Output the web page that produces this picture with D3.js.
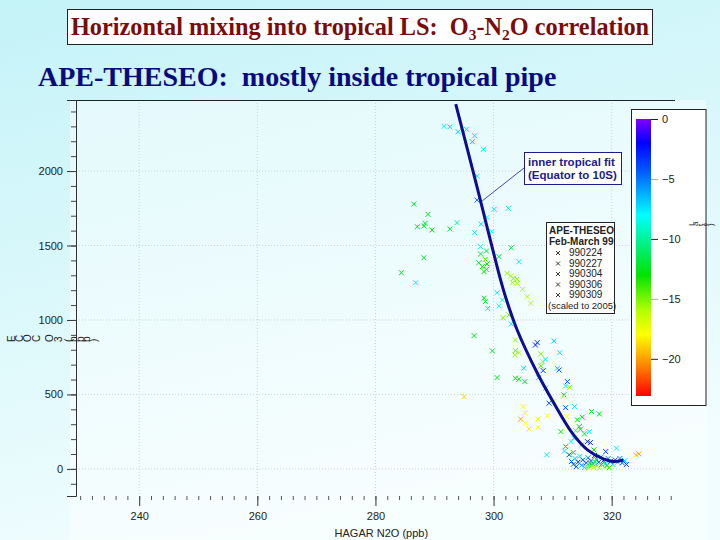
<!DOCTYPE html>
<html>
<head>
<meta charset="utf-8">
<script src="https://cdn.jsdelivr.net/npm/d3@7"></script>
<style>
  html, body { margin: 0; padding: 0; }
  svg { display: block; }
  .pre { white-space: pre; }
</style>
</head>
<body>
<div id="chart"></div>
<script>
// Axis ticks.
const n2oTicks = [240, 260, 280, 300, 320];
const o3Ticks = [0, 500, 1000, 1500, 2000];
const colorTicks = [0, -5, -10, -15, -20];

// Inner tropical fit (N2O ppb, O3 ppb).
const fitN2O = [293.6, 296.9, 301.2, 302.2, 304.0, 307.4, 310.2, 313.3, 315.9, 318.6, 320.3, 322.0];
const fitO3 = [2450, 1940, 1268, 1134, 933, 644, 443, 242, 128, 67, 49, 60];

// Legend entries.
const flights = ["990224", "990227", "990304", "990306", "990309"];

// Samples: [N2O, O3, colour value]
const samples = [
  // upper branch
  [292.6, 2297, -7.5], [294.0, 2264, -7], [295.4, 2280, -7.5], [296.8, 2237, -7.5],
  [296.4, 2197, -7], [298.3, 2146, -7.5], [297.2, 1966, -7.5], [291.6, 2300, -8],
  [297.2, 1805, -5], [300.1, 1743, -7.5], [302.5, 1750, -7.5], [298.9, 1689, -8],
  [297.9, 1644, -7.5], [299.7, 1593, -8], [296.8, 1586, -7.5],
  // green points left of the fit
  [286.5, 1778, -12], [288.9, 1709, -12.5], [288.4, 1649, -12], [288.2, 1631, -12],
  [287.1, 1626, -12], [289.6, 1604, -12.5], [292.6, 1611, -12], [293.8, 1653, -10],
  [288.2, 1418, -12], [284.4, 1317, -12.5], [286.8, 1250, -8],
  // middle cluster
  [297.8, 1492, -7.5], [297.8, 1443, -12], [298.8, 1463, -12], [297.5, 1384, -12.5],
  [298.1, 1358, -13], [298.6, 1407, -14], [298.9, 1376, -13], [298.4, 1324, -13],
  [298.8, 1340, -13.5], [300.9, 1425, -12], [303.0, 1485, -12], [304.3, 1391, -7.5],
  [302.3, 1313, -15.5], [302.9, 1295, -15.5], [303.4, 1280, -15.5], [304.0, 1273, -15],
  [303.2, 1250, -15.5], [304.9, 1206, -16], [305.7, 1156, -16], [304.0, 1246, -15.5],
  [306.3, 1112, -16], [300.6, 1183, -7.5], [298.4, 1146, -12], [298.6, 1123, -12.5],
  [299.0, 1078, -8], [300.9, 1094, -8], [301.5, 1134, -9], [302.6, 1033, -15],
  [301.6, 1015, -15], [303.0, 973, -7.5], [296.7, 895, -12.5], [299.8, 792, -12.5],
  [300.6, 613, -12.5], [295.0, 485, -19],
  // lower branch
  [303.7, 866, -15.5], [303.7, 794, -15], [303.6, 765, -15.5], [304.3, 780, -16],
  [305.1, 676, -7.5], [303.7, 609, -13], [304.3, 602, -12.5], [305.3, 586, -12.5],
  [307.1, 832, -3], [307.4, 848, -3.5], [310.2, 859, -7], [311.2, 780, -7.5],
  [308.8, 736, -7.5], [308.0, 772, -15], [308.3, 720, -15.5], [308.0, 691, -14],
  [308.4, 660, -3.5], [311.1, 664, -4], [310.8, 676, -7], [307.6, 613, -7.5],
  [308.8, 542, -7], [309.4, 441, -4], [310.2, 452, -17], [309.1, 356, -18],
  [312.5, 586, -4], [312.2, 557, -7.5], [312.9, 548, -15], [311.9, 497, -12.5],
  [311.8, 485, -17.5], [312.2, 411, -4], [313.7, 418, -7.5], [312.4, 351, -18],
  [311.4, 250, -12.5],
  [305.0, 418, -18], [305.3, 374, -18], [304.6, 334, -20], [305.4, 307, -18],
  [306.0, 268, -18.5], [307.5, 280, -18], [307.5, 334, -17.5],
  [314.2, 329, -13], [315.0, 347, -12.5], [314.5, 284, -13], [313.9, 257, -15],
  [314.7, 266, -12.5], [315.4, 235, -12], [316.2, 250, -7.5], [315.9, 183, -3.5],
  [316.4, 176, -3], [316.6, 385, -12.5], [317.9, 369, -12.5], [313.6, 206, -7.5],
  [313.1, 183, -8], [309.0, 94, -7.5], [312.2, 150, -12], [314.9, 161, -15],
  [317.0, 128, -13], [319.0, 116, -3.5], [320.8, 139, -7.5], [324.1, 94, -19],
  [324.6, 101, -20], [312.0, 120, -7.5], [312.8, 95, -4], [313.5, 110, -12],
  // dense cluster at the bottom
  [313.2, 50, -4], [313.5, 30, -5], [313.8, 70, -7], [314.0, 15, -4], [314.3, 45, -3.5],
  [314.6, 85, -8], [314.9, 25, -6], [315.1, 60, -4], [315.4, 10, -7], [315.7, 40, -3.5],
  [316.0, 75, -5], [316.2, 20, -8], [316.5, 55, -4], [316.8, 35, -7], [317.1, 90, -4],
  [317.4, 65, -6], [317.8, 45, -3.5], [318.2, 80, -7.5], [318.6, 55, -4], [319.0, 35, -7],
  [319.4, 70, -5], [319.8, 50, -3.5], [320.2, 30, -7], [320.6, 60, -4], [321.0, 45, -7.5],
  [321.4, 70, -5], [321.8, 40, -4], [322.2, 55, -7], [322.5, 30, -3.5],
  [315.6, 15, -15], [316.1, 5, -16], [316.6, 25, -14], [317.0, 10, -16.5], [317.5, 20, -15],
  [317.9, 5, -16], [318.3, 30, -13], [318.8, 12, -15.5], [319.2, 22, -12.5], [319.6, 8, -14],
  [316.3, 40, -12], [317.2, 48, -12.5]
];

const width = 720;
const height = 540;

const svg = d3.select("#chart")
  .append("svg")
  .attr("width", width)
  .attr("height", height);

const defs = svg.append("defs");

// Page background gradient.
const bg = defs.append("linearGradient")
  .attr("id", "bg")
  .attr("x1", 0).attr("y1", 0).attr("x2", 0.3).attr("y2", 1);
bg.append("stop").attr("offset", 0).attr("stop-color", "#c4f3f8");
bg.append("stop").attr("offset", 1).attr("stop-color", "#f1fdfe");

svg.append("rect")
  .attr("width", width)
  .attr("height", height)
  .attr("fill", "url(#bg)");

// Title box.
svg.append("rect")
  .attr("x", 67.5).attr("y", 9.5)
  .attr("width", 585).attr("height", 35)
  .attr("fill", "#ffffff")
  .attr("stroke", "#222")
  .attr("stroke-width", 1);

const title = svg.append("text")
  .attr("class", "pre")
  .attr("x", 360).attr("y", 35)
  .attr("text-anchor", "middle")
  .attr("font-family", "'Liberation Serif', 'Times New Roman', serif")
  .attr("font-weight", "bold")
  .attr("font-size", 24.3)
  .attr("fill", "#7a0c0c");
title.append("tspan").text("Horizontal mixing into tropical LS:  O");
title.append("tspan").attr("font-size", 15.5).attr("dy", 5).text("3");
title.append("tspan").attr("dy", -5).text("-N");
title.append("tspan").attr("font-size", 15.5).attr("dy", 5).text("2");
title.append("tspan").attr("dy", -5).text("O correlation");

svg.append("text")
  .attr("class", "pre")
  .attr("x", 38).attr("y", 86)
  .attr("font-family", "'Liberation Serif', 'Times New Roman', serif")
  .attr("font-weight", "bold")
  .attr("font-size", 28)
  .attr("fill", "#0a0a80")
  .text("APE-THESEO:  mostly inside tropical pipe");

// Chart panel.
const margin = { top: 100, left: 76, bottom: 496, right: 672.5 };

svg.append("rect")
  .attr("x", 70).attr("y", 100)
  .attr("width", 636).attr("height", 440)
  .attr("fill", "#ffffff")
  .attr("opacity", 0.45);

const x = d3.scaleLinear()
  .domain([229.3, 330.3])
  .range([margin.left, margin.right]);

const y = d3.scaleLinear()
  .domain([-182, 2477])
  .range([margin.bottom, margin.top]);

// Grid lines.
svg.append("g")
  .selectAll("line")
  .data(n2oTicks)
  .join("line")
  .attr("x1", (d) => x(d)).attr("x2", (d) => x(d))
  .attr("y1", margin.top).attr("y2", margin.bottom)
  .attr("stroke", "#c8d4d8")
  .attr("stroke-dasharray", "1,2");

svg.append("g")
  .selectAll("line")
  .data(o3Ticks)
  .join("line")
  .attr("x1", margin.left).attr("x2", margin.right)
  .attr("y1", (d) => y(d)).attr("y2", (d) => y(d))
  .attr("stroke", "#c8d4d8")
  .attr("stroke-dasharray", "1,2");

// Top frame line.
svg.append("line")
  .attr("x1", margin.left).attr("x2", 675)
  .attr("y1", margin.top + 0.5).attr("y2", margin.top + 0.5)
  .attr("stroke", "#222");

const axisFont = "'Liberation Sans', Arial, sans-serif";

// y-axis (major + minor).
const yAxis = svg.append("g")
  .attr("transform", `translate(${margin.left},0)`)
  .call(d3.axisLeft(y).tickValues(o3Ticks).tickFormat(d3.format("d")).tickSize(9).tickPadding(4));
yAxis.select(".domain").attr("stroke", "#333");
yAxis.selectAll(".tick line").attr("stroke", "#333");
yAxis.selectAll("text")
  .attr("font-family", axisFont)
  .attr("font-size", 11)
  .attr("fill", "#222");

svg.append("g")
  .attr("transform", `translate(${margin.left},0)`)
  .call(d3.axisLeft(y).tickValues(d3.range(-100, 2401, 100)).tickSize(5).tickFormat(""))
  .call((g) => g.select(".domain").remove())
  .selectAll(".tick line").attr("stroke", "#444");

// x-axis (major + minor).
const xAxis = svg.append("g")
  .attr("transform", `translate(0,${margin.bottom})`)
  .call(d3.axisBottom(x).tickValues(n2oTicks).tickSize(10).tickPadding(6));
xAxis.select(".domain").remove();
xAxis.selectAll(".tick line").attr("stroke", "#333");
xAxis.selectAll("text")
  .attr("font-family", axisFont)
  .attr("font-size", 11)
  .attr("fill", "#222");

svg.append("g")
  .attr("transform", `translate(0,${margin.bottom})`)
  .call(d3.axisBottom(x).tickValues(d3.range(230, 331, 2)).tickSize(4).tickFormat(""))
  .call((g) => g.select(".domain").remove())
  .selectAll(".tick line").attr("stroke", "#555");

svg.append("text")
  .attr("x", x(281)).attr("y", 537)
  .attr("text-anchor", "middle")
  .attr("font-family", axisFont)
  .attr("font-size", 11)
  .attr("fill", "#222")
  .text("HAGAR N2O (ppb)");

// Glyph-rotated y label.
svg.append("text")
  .attr("x", 15).attr("y", 342)
  .attr("rotate", -90)
  .attr("font-family", axisFont)
  .attr("font-size", 10)
  .attr("letter-spacing", 1.2)
  .attr("fill", "#222")
  .text("ECOC O3 (ppb)");

// Colour scale.
const colorStops = [-23.1, -20.5, -18, -16, -13, -8, -4.5, -2, 0];
const colorValues = ["#ff0000", "#ff8800", "#ffff00", "#b4ff00", "#00e400", "#00ffff", "#0060ff", "#0000ff", "#8000ff"];
const color = d3.scaleLinear().domain(colorStops).range(colorValues).clamp(true);

// Fit curve.
const fitLine = d3.line()
  .x((d) => x(d[0]))
  .y((d) => y(d[1]))
  .curve(d3.curveCatmullRom);

// Sample markers.
svg.append("g")
  .selectAll("path")
  .data(samples)
  .join("path")
  .attr("transform", (d) => `translate(${x(d[0])},${y(d[1])})`)
  .attr("d", "M-2.5,-2.5L2.5,2.5M-2.5,2.5L2.5,-2.5")
  .attr("fill", "none")
  .attr("stroke", (d) => color(d[2]))
  .attr("stroke-width", 1);

svg.append("path")
  .datum(fitN2O.map((v, i) => [v, fitO3[i]]))
  .attr("d", fitLine)
  .attr("fill", "none")
  .attr("stroke", "#0c0c96")
  .attr("stroke-width", 3);

// Fit annotation.
svg.append("line")
  .attr("x1", 524).attr("y1", 168)
  .attr("x2", x(298.1)).attr("y2", y(1800))
  .attr("stroke", "#1c1c8c")
  .attr("stroke-width", 0.8);

svg.append("rect")
  .attr("x", 524.5).attr("y", 152.5)
  .attr("width", 97).attr("height", 32)
  .attr("fill", "#ffffff")
  .attr("stroke", "#1c1c8c");

svg.append("g")
  .selectAll("text")
  .data(["inner tropical fit", "(Equator to 10S)"])
  .join("text")
  .attr("x", 528)
  .attr("y", (d, i) => 166 + i * 13)
  .attr("font-family", axisFont)
  .attr("font-weight", "bold")
  .attr("font-size", 11.5)
  .attr("fill", "#1c1c8c")
  .text((d) => d);

// Legend.
svg.append("rect")
  .attr("x", 546.5).attr("y", 222.5)
  .attr("width", 68).attr("height", 91)
  .attr("fill", "#ffffff")
  .attr("stroke", "#222");

const legend = svg.append("g")
  .attr("font-family", axisFont)
  .attr("fill", "#222");

legend.append("text")
  .attr("x", 549).attr("y", 234)
  .attr("font-size", 10).attr("font-weight", "bold")
  .text("APE-THESEO");
legend.append("text")
  .attr("x", 549).attr("y", 244.5)
  .attr("font-size", 10).attr("font-weight", "bold")
  .text("Feb-March 99");

legend.selectAll("g.item")
  .data(flights)
  .join("g")
  .attr("class", "item")
  .attr("transform", (d, i) => `translate(0,${256 + i * 10.5})`)
  .call((g) => {
    g.append("path")
      .attr("transform", "translate(558,-3)")
      .attr("d", "M-2,-2L2,2M-2,2L2,-2")
      .attr("stroke", "#222")
      .attr("stroke-width", 0.9);
    g.append("text")
      .attr("x", 569)
      .attr("font-size", 10)
      .text((d) => d);
  });

legend.append("text")
  .attr("x", 548).attr("y", 309)
  .attr("font-size", 9.5)
  .text("(scaled to 2005)");

// Colour bar.
svg.append("rect")
  .attr("x", 631.5).attr("y", 109.5)
  .attr("width", 74.5).attr("height", 296)
  .attr("fill", "#ffffff")
  .attr("stroke", "#222");

const cbar = d3.scaleLinear().domain([0, -23.1]).range([119, 396]);

const grad = defs.append("linearGradient")
  .attr("id", "cbar")
  .attr("x1", 0).attr("y1", 0).attr("x2", 0).attr("y2", 1);
grad.selectAll("stop")
  .data(colorStops.slice().reverse())
  .join("stop")
  .attr("offset", (d) => (0 - d) / 23.1)
  .attr("stop-color", (d) => color(d));

svg.append("rect")
  .attr("x", 636).attr("y", 119)
  .attr("width", 15).attr("height", 277)
  .attr("fill", "url(#cbar)");

const cAxis = svg.append("g")
  .attr("transform", "translate(651,0)")
  .call(d3.axisRight(cbar).tickValues(colorTicks).tickSize(7).tickPadding(4));
cAxis.select(".domain").remove();
cAxis.selectAll(".tick line").attr("stroke", (d) => (d % 10 === 0 ? "#222" : "#aaa"));
cAxis.selectAll("text")
  .attr("font-family", axisFont)
  .attr("font-size", 11)
  .attr("fill", "#222");

svg.append("text")
  .attr("x", 694).attr("y", 226)
  .attr("rotate", -90)
  .attr("font-family", axisFont)
  .attr("font-size", 8)
  .attr("fill", "#222")
  .text("Lat (°)");
</script>
</body>
</html>
